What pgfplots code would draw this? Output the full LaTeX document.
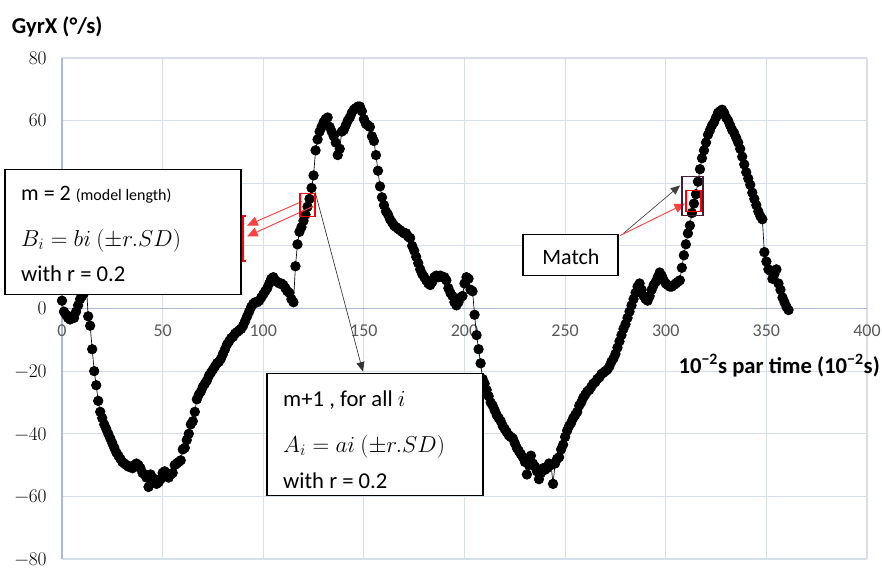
\documentclass[border=0pt]{standalone}
\usepackage{fontspec}
\setmainfont{Carlito}
\newfontfamily\lmr{Latin Modern Roman}
\newcommand\yl[1]{{\lmr\fontsize{14.5}{16}\selectfont #1}}
\usepackage{pgfplots}
\pgfplotsset{compat=1.18}
\usetikzlibrary{arrows.meta}
\definecolor{gridc}{HTML}{D6DEE9}
\definecolor{axc}{HTML}{A8BBD3}
\definecolor{tickc}{HTML}{595959}
\definecolor{purp}{HTML}{4A1C3C}
\definecolor{redA}{HTML}{FF4040}
\begin{document}
\begin{tikzpicture}
\begin{axis}[name=ax, set layers, scale only axis, width=603.75pt, height=375.75pt,
  xmin=0, xmax=400, ymin=-80, ymax=80,
  axis x line=middle, axis y line=left,
  axis line style={axc, line width=0.9pt, -},
  hide obscured x ticks=false, hide obscured y ticks=false,
  xtick={0,50,...,400}, ytick={-80,-60,...,80},
  yticklabels={\yl{−80},\yl{−60},\yl{−40},\yl{−20},\yl{0},,,\yl{60},\yl{80}},
  major tick length=0pt,
  grid=major, major grid style={gridc, line width=0.8pt},
  xticklabel={\pgfmathprintnumber[assume math mode=true]{\tick}},
  xticklabel style={font=\fontsize{13.5}{14}\selectfont, text=tickc, anchor=north, yshift=-9pt},
  yticklabel style={text=black, anchor=east, xshift=-8pt},
  clip=false]
\addplot[black, line width=0.5pt, mark=*, mark size=3.6pt, mark options={fill=black}] coordinates {
(0,2.5)(1,-1)(2,-2)(3,-3)(4,-3.5)(5,-2.5)(6,-3)(7,-1)(8,1)(9,3)(10,4)(11,5)(12,9)
(13,-2.5)(14,-5.5)(15,-13)(16,-20)(17,-24.5)(18,-29.5)(19,-33)(20,-35)(21,-37)(22,-38.5)(23,-40)(24,-41.5)
(25,-43)(26,-44.5)(27,-46)(28,-47)(29,-48)(30,-49)(31,-49.5)(32,-50)(33,-50.5)(34,-50.5)(35,-51)(36,-50)
(37,-49.5)(38,-50)(39,-51)(40,-52.5)(41,-53)(42,-54)(43,-57)(44,-53)(45,-54)(46,-55)(47,-56)(48,-55.5)
(49,-54.5)(50,-52.5)(51,-52)(52,-53.5)(53,-54)(54,-53)(55,-52.5)(56,-50)(57,-49.5)(58,-49)(59,-48.5)(60,-45)
(61,-44.5)(62,-42)(63,-40)(64,-37)(65,-36)(66,-33)(67,-29)(68,-27.5)(69,-26.5)(70,-25)(71,-24)(72,-23)
(73,-21.5)(74,-20.5)(75,-19.5)(76,-18.5)(77,-17.5)(78,-17)(79,-16)(80,-14.5)(81,-13)(82,-11.5)(83,-10.5)(84,-9.5)
(85,-9)(86,-8)(87,-7.5)(88,-7)(89,-6.5)(90,-5.5)(91,-4)(92,-2.5)(93,-1)(94,0.5)(95,1.5)(96,2)
(97,2)(98,2.5)(99,3.5)(100,4.5)(101,5.5)(102,6.5)(103,8)(104,9.5)(105,10)(106,9)(107,8.5)(108,8)
(109,8)(110,7.5)(111,6.5)(112,5.5)(113,5)(114,3)(115,2)(116,13.5)(117,20.5)(118,24.5)(119,26)(120,28)
(121,30)(122,32.5)(123,35)(124,38.5)(125,42.5)(126,50.5)(127,54)(128,56.5)(129,58)(130,59.5)(131,60.5)(132,61)
(133,58)(134,56.5)(135,55)(136,53)(137,49)(138,51)(139,56.5)(140,57)(141,58.5)(142,60)(143,61)(144,62.5)
(145,63.5)(146,64)(147,64.5)(148,64.5)(149,63)(150,60.5)(151,59)(152,58.5)(153,58)(154,55)(155,53.5)(156,49)
(157,44)(158,39)(159,35.5)(160,33)(161,31)(162,30)(163,28.5)(164,27.5)(165,26.5)(166,26)(167,25.5)(168,25)
(169,24.5)(170,24)(171,24)(172,23)(173,22.5)(174,20)(175,18.5)(176,16.5)(177,14.5)(178,12.5)(179,11)(180,10)
(181,9)(182,8)(183,7.5)(184,8.5)(185,10)(186,10.5)(187,10)(188,10.5)(189,10)(190,10)(191,9)(192,6.5)
(193,5)(194,4)(195,2)(196,1)(197,2)(198,3.5)(199,4)(200,8)(201,10)(202,9.5)(203,6)(204,5.5)
(205,-2)(206,-8.5)(207,-13)(208,-17.5)(209,-22.5)(210,-24)(211,-26)(212,-28)(213,-30)(214,-31)(215,-32.5)(216,-34)
(217,-35)(218,-36)(219,-37.5)(220,-38.5)(221,-39.5)(222,-40.5)(223,-41)(224,-41.5)(225,-43)(226,-44.5)(227,-45.5)(228,-46.5)
(229,-47.5)(230,-49)(231,-53)(232,-50)(233,-47)(234,-49.5)(235,-50.5)(236,-52)(237,-54.5)(238,-52.5)(239,-51)(240,-51.5)
(241,-51)(242,-49.5)(243,-50)(244,-56)(245,-49.5)(246,-48)(247,-47.5)(248,-45)(249,-43.5)(250,-41)(251,-39)(252,-37.5)
(253,-36.5)(254,-35)(255,-34)(256,-33)(257,-31)(258,-30)(259,-28.5)(260,-27.5)(261,-26.5)(262,-26)(263,-25)(264,-24)
(265,-23.5)(266,-22.5)(267,-22)(268,-21)(269,-20.5)(270,-20)(271,-19.5)(272,-18.5)(273,-17)(274,-16)(275,-14.5)(276,-12.5)
(277,-10.5)(278,-8.5)(279,-6.5)(280,-5)(281,-3)(282,-1)(283,1)(284,3)(285,5)(286,7)(287,8)(288,6)
(289,4)(290,3)(291,2.5)(292,4)(293,6)(294,7.5)(295,8.5)(296,10)(297,11.5)(298,10.5)(299,9)(300,8)
(301,7.5)(302,7)(303,7)(304,7.5)(305,8)(306,8.5)(307,9)(308,13)(309,17)(310,20.5)(311,24)(312,26.5)
(313,30.5)(314,33.5)(315,36.5)(316,40.5)(317,44.5)(318,48)(319,50.5)(320,53)(321,55.5)(322,57)(323,58.5)(324,59.5)
(325,61)(326,62.5)(327,63)(328,63.5)(329,62.5)(330,61)(331,60)(332,58.5)(333,57)(334,56)(335,54.5)(336,53)
(337,51)(338,48.5)(339,46)(340,43.5)(341,41.5)(342,39.5)(343,37)(344,35)(345,33)(346,31)(347,29.5)(348,28.5)
(349,18)(350,15)(351,12.5)(352,12)(353,9.5)(354,11)(355,12.5)(356,8)(357,6)(358,3.5)(359,2)(360,0.5)(361,-0.5)
};
\begin{pgfonlayer}{axis foreground}
% box 1
\draw[fill=white, line width=1.1pt] (-28.3,44.4) rectangle (88.9,4.5);
\node[anchor=west, inner sep=0pt, font=\fontsize{16.5}{18}\selectfont] at (-20.4,36.4) {m = 2 {\fontsize{12}{13}\selectfont (model length)}};
\node[anchor=west, inner sep=0pt, font=\fontsize{17.5}{18}\selectfont] at (-20.4,21.7) {$B_i = bi\ (\pm r.SD)$};
\node[anchor=west, inner sep=0pt, font=\fontsize{17}{18}\selectfont] at (-20.4,11.2) {with r = 0.2};
% red bracket and arrows
\draw[red, line width=1.5pt] (91.6,29.4) -- (90,29.4) -- (90,15.3) -- (91.6,15.3);
\draw[redA, line width=0.7pt, -{Triangle[length=8pt,width=7pt]}] (119.3,34.2) -- (91.9,26.5);
\draw[redA, line width=0.7pt, -{Triangle[length=8pt,width=7pt]}] (124.7,32.6) -- (91.9,23);
\draw[red, line width=1.1pt] (118.3,36.7) rectangle (125.7,29.4);
\draw[black!80, line width=0.5pt, -{Triangle[length=7pt,width=6pt]}] (125.7,37.4) -- (149.5,-20.1);
% box 2
\draw[fill=white, line width=1.1pt] (101.9,-20.8) rectangle (209.2,-59.7);
\node[anchor=west, inner sep=0pt, font=\fontsize{17}{18}\selectfont] at (109.8,-29.4) {m+1 , for all $i$};
\node[anchor=west, inner sep=0pt, font=\fontsize{17.5}{18}\selectfont] at (109.8,-44.1) {$A_i = ai\ (\pm r.SD)$};
\node[anchor=west, inner sep=0pt, font=\fontsize{17}{18}\selectfont] at (109.8,-55.0) {with r = 0.2};
% match
\draw[fill=white, line width=1.1pt] (229,23.6) rectangle (276.3,10.5);
\node[inner sep=0pt, font=\fontsize{16.5}{18}\selectfont] at (252.9,16.6) {Match};
\draw[black!75, line width=0.5pt, -{Triangle[length=7pt,width=6pt]}] (279,24) -- (307.1,39.3);
\draw[redA, line width=0.7pt, -{Triangle[length=8pt,width=7pt]}] (277.3,23.3) -- (309.6,33.5);
\draw[purp, line width=1.1pt] (308.1,42.2) rectangle (318.5,29.7);
\draw[red, line width=1.1pt] (310,37.7) rectangle (317.5,31);
% axis titles
\node[anchor=west, inner sep=0pt, font=\bfseries\fontsize{17}{18}\selectfont] at (-25,90) {GyrX (°/s)};
\node[anchor=east, inner sep=0pt, font=\bfseries\fontsize{17}{18}\selectfont] at (406.5,-18.2) {10\textsuperscript{−2}s par time (10\textsuperscript{−2}s)};
\end{pgfonlayer}
\end{axis}
\pgfresetboundingbox
\path[use as bounding box] ([xshift=-46.5pt,yshift=-6.75pt]ax.south west) rectangle ([xshift=11.25pt,yshift=43.5pt]ax.north east);
\end{tikzpicture}
\end{document}
